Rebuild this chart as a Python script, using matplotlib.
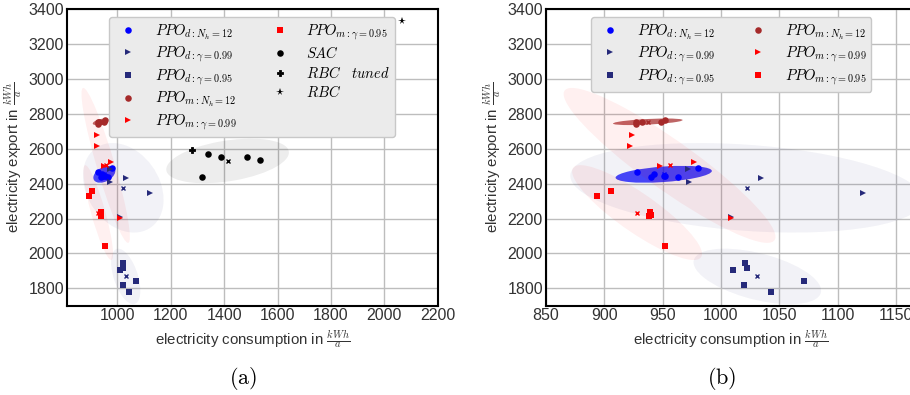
import numpy as np
import matplotlib
matplotlib.use("Agg")
import matplotlib.pyplot as plt
from matplotlib.patches import Ellipse

plt.rcParams['font.family'] = ['Liberation Sans', 'DejaVu Sans']
plt.rcParams['mathtext.fontset'] = 'cm'

# ---------------- data ----------------
pd_nh12_x = [928, 940, 943, 951, 952, 963, 980]
pd_nh12_y = [2467, 2440, 2453, 2446, 2442, 2438, 2493]

pd_g99_x = [972, 973, 1034, 1122, 1009]
pd_g99_y = [2482, 2409, 2434, 2348, 2210]

pd_g95_x = [1010, 1021, 1022, 1020, 1043, 1071]
pd_g95_y = [1905, 1945, 1919, 1821, 1777, 1840]

pm_nh12_x = [927, 927, 932, 949, 952]
pm_nh12_y = [2757, 2745, 2757, 2752, 2766]

pm_g99_x = [924, 922, 948, 977, 1009]
pm_g99_y = [2677, 2618, 2503, 2522, 2206]

pm_g95_x = [894, 906, 939, 940, 938, 952]
pm_g95_y = [2331, 2361, 2235, 2218, 2216, 2045]

sac_x = [1339, 1387, 1485, 1535, 1318]
sac_y = [2573, 2551, 2551, 2539, 2440]

rbc_tuned_x = [1281]
rbc_tuned_y = [2591]

rbc_x = [2065]
rbc_y = [3335]

labels = {
    'pd_nh12': r'$PPO_{d:N_h=12}$',
    'pd_g99': r'$PPO_{d:\gamma=0.99}$',
    'pd_g95': r'$PPO_{d:\gamma=0.95}$',
    'pm_nh12': r'$PPO_{m:N_h=12}$',
    'pm_g99': r'$PPO_{m:\gamma=0.99}$',
    'pm_g95': r'$PPO_{m:\gamma=0.95}$',
    'sac': r'$SAC$',
    'rbc_tuned': r'$RBC\ \ \ tuned$',
    'rbc': r'$RBC$',
}

NAVY = '#262a7a'
BROWN = '#a52a2a'

ppo_series = [
    ('pd_nh12', pd_nh12_x, pd_nh12_y, 'blue', 'o', 0.72),
    ('pd_g99', pd_g99_x, pd_g99_y, NAVY, '>', 0.06),
    ('pd_g95', pd_g95_x, pd_g95_y, NAVY, 's', 0.06),
    ('pm_nh12', pm_nh12_x, pm_nh12_y, BROWN, 'o', 0.72),
    ('pm_g99', pm_g99_x, pm_g99_y, 'red', '>', 0.06),
    ('pm_g95', pm_g95_x, pm_g95_y, 'red', 's', 0.06),
]

N_STD = np.sqrt(5.991)
MS = 4.7


def conf_ellipse(ax, x, y, color, alpha):
    x = np.asarray(x, float)
    y = np.asarray(y, float)
    cov = np.cov(x, y)
    vals, vecs = np.linalg.eigh(cov)
    order = vals.argsort()[::-1]
    vals, vecs = vals[order], vecs[:, order]
    angle = np.degrees(np.arctan2(vecs[1, 0], vecs[0, 0]))
    w, h = 2 * N_STD * np.sqrt(vals)
    e = Ellipse((x.mean(), y.mean()), w, h, angle=angle, facecolor=color,
                edgecolor='none', alpha=alpha, zorder=1)
    ax.add_patch(e)


def style_axes(ax):
    ax.set_facecolor('white')
    ax.grid(True, color='#bdbdbd', lw=1.0)
    ax.set_axisbelow(True)
    ax.tick_params(length=0, labelsize=11.5, colors='#333333', pad=2)
    for s in ax.spines.values():
        s.set_color('black')
        s.set_linewidth(1.5)
    ax.set_xlabel(r'electricity consumption in $\frac{kWh}{a}$', fontsize=10.8,
                  color='#333333', labelpad=3)
    ax.set_ylabel(r'electricity export in $\frac{kWh}{a}$', fontsize=10.8,
                  color='#333333', labelpad=3)


def draw_ppo(ax):
    for key, x, y, c, m, a in ppo_series:
        conf_ellipse(ax, x, y, c, a)
    for key, x, y, c, m, a in ppo_series:
        ax.plot(x, y, ls='none', marker=m, color=c, ms=MS, mew=0,
                zorder=3, label=labels[key])
        ax.plot([np.mean(x)], [np.mean(y)], ls='none', marker='x', color=c,
                ms=3.2, mew=1.0, zorder=4)


fig = plt.figure(figsize=(9.1, 3.95), dpi=100)
ax1 = fig.add_axes([0.0733, 0.2261, 0.4077, 0.7499])
ax2 = fig.add_axes([0.5997, 0.2261, 0.4069, 0.7499])

# ---- left panel ----
draw_ppo(ax1)
conf_ellipse(ax1, sac_x, sac_y, 'black', 0.07)
ax1.plot(sac_x, sac_y, ls='none', marker='o', color='black', ms=MS, mew=0,
         zorder=3, label=labels['sac'])
ax1.plot([np.mean(sac_x)], [np.mean(sac_y)], ls='none', marker='x',
         color='black', ms=3.2, mew=1.0, zorder=4)
ax1.plot(rbc_tuned_x, rbc_tuned_y, ls='none', marker='P', color='black',
         ms=5, mew=0.6, mec='black', zorder=3, label=labels['rbc_tuned'])
ax1.plot(rbc_x, rbc_y, ls='none', marker='*', color='black', ms=5.5, mew=0,
         zorder=3, label=labels['rbc'])
ax1.set_xlim(810, 2200)
ax1.set_ylim(1700, 3400)
ax1.set_xticks(np.arange(1000, 2201, 200))
ax1.set_yticks(np.arange(1800, 3401, 200))
style_axes(ax1)

# ---- right panel ----
draw_ppo(ax2)
ax2.set_xlim(850, 1167)
ax2.set_ylim(1700, 3400)
ax2.set_xticks(np.arange(850, 1151, 50))
ax2.set_yticks(np.arange(1800, 3401, 200))
style_axes(ax2)

for ax, x0 in ((ax1, 0.1132), (ax2, 0.1215)):
    h, l = ax.get_legend_handles_labels()
    leg = ax.legend(h, l, ncol=2, loc='upper left', bbox_to_anchor=(x0, 0.974),
                    borderaxespad=0, fontsize=10.5, frameon=True, fancybox=True,
                    handlelength=2.0, columnspacing=2.0, labelspacing=0.22,
                    handletextpad=0.8, borderpad=0.35)
    fr = leg.get_frame()
    fr.set_facecolor('#ebebeb')
    fr.set_edgecolor('#c8c8c8')
    fr.set_alpha(1)
    fr.set_linewidth(1.0)

fig.text(243 / 910, 1 - 378 / 395, r'$\mathrm{(a)}$', fontsize=16,
         ha='center', va='center')
fig.text(722 / 910, 1 - 378 / 395, r'$\mathrm{(b)}$', fontsize=16,
         ha='center', va='center')

fig.savefig('out.png', dpi=100)
